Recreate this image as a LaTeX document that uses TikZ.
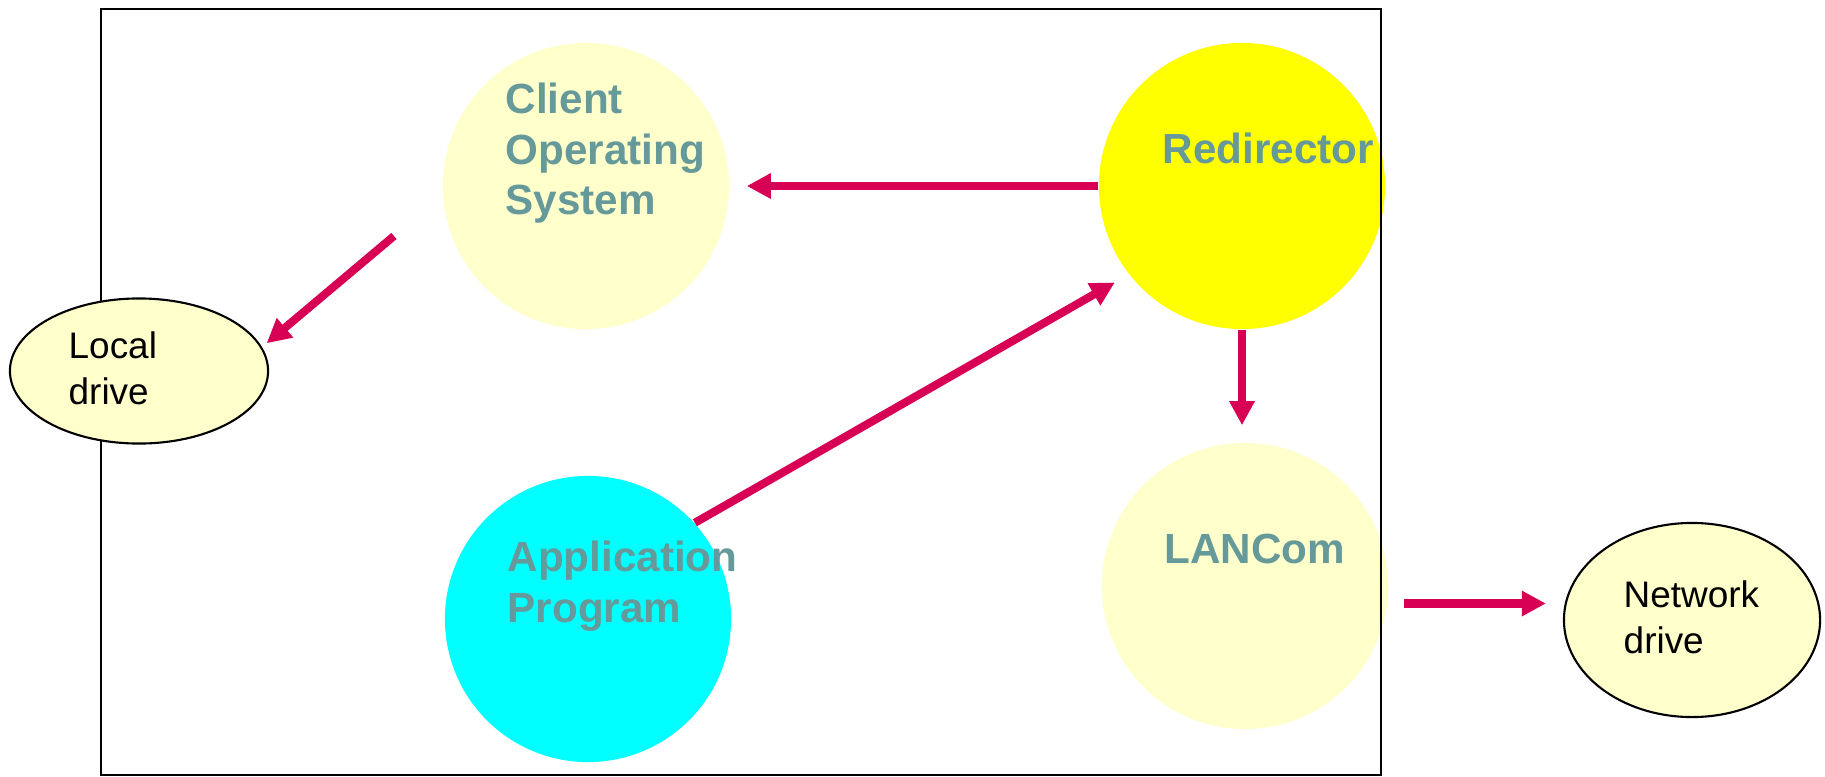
\documentclass[tikz,border=0pt]{standalone}
\usepackage{fontspec}
\setmainfont{Liberation Sans}
\usetikzlibrary{arrows.meta,shapes.geometric}
\definecolor{flowred}{RGB}{215,0,85}
\definecolor{tealtext}{RGB}{102,153,153}
\definecolor{paleyellow}{RGB}{255,255,204}
\definecolor{procyellow}{RGB}{255,255,0}
\definecolor{proccyan}{RGB}{0,255,255}

\begin{document}
\begin{tikzpicture}[x=0.01cm,y=-0.01cm,
	proc/.style={circle,minimum size=2.86cm,inner sep=0pt},
	drive/.style={ellipse,draw=black,line width=0.6pt,fill=paleyellow,inner sep=0pt},
	proclabel/.style={anchor=base west,inner sep=0pt,align=left,text=tealtext,font=\fontsize{12}{14.5}\selectfont\bfseries},
	drivelabel/.style={anchor=base west,inner sep=0pt,align=left,font=\fontsize{10.5}{12.8}\selectfont},
	flow/.style={draw=flowred,line width=2.3pt,-{Triangle[length=0.24cm,width=0.24cm]}}]
	\useasboundingbox (0,0) rectangle (1825,776);
	\node[proc,fill=paleyellow] (client) at (586,186) {};
	\node[proc,fill=procyellow] (redir) at (1242,186) {};
	\node[proc,fill=proccyan] (app) at (588,619) {};
	\node[proc,fill=paleyellow] (lancom) at (1245,586) {};
	\draw[line width=0.5pt] (101,9) rectangle (1381,775);
	\node[drive,minimum width=2.58cm,minimum height=1.45cm] (local) at (139,371) {};
	\node[drive,minimum width=2.56cm,minimum height=1.94cm] (netw) at (1692,620) {};

	% base anchor = baseline of the last line
	\node[proclabel] (clienttxt) at (505,215) {Client\\Operating\\System};
	\node[proclabel] (redirtxt) at (1162,163) {Redirector};
	\node[proclabel] (apptxt) at (507,622) {Application\\Program};
	\node[proclabel] (lancomtxt) at (1164,563) {LANCom};
	\node[drivelabel] (localtxt) at (68,404) {Local\\drive};
	\node[drivelabel] (netwtxt) at (1623,653) {Network\\drive};

	\coordinate (osout) at (394,236);
	\draw[flow,shorten >=0.17cm] (redir.west) -- (client.east);
	\draw[flow,shorten >=0.06cm] (osout) -- (local.11);
	\draw[flow,shorten >=0.16cm] (app.42) -- (redir.218);
	\draw[flow,shorten >=0.17cm] (redir.south) -- (redir.south |- lancom.north);
	\draw[flow,shorten <=0.16cm,shorten >=0.17cm] (lancom.-7) -- (lancom.-7 -| netw.west);
\end{tikzpicture}
\end{document}
